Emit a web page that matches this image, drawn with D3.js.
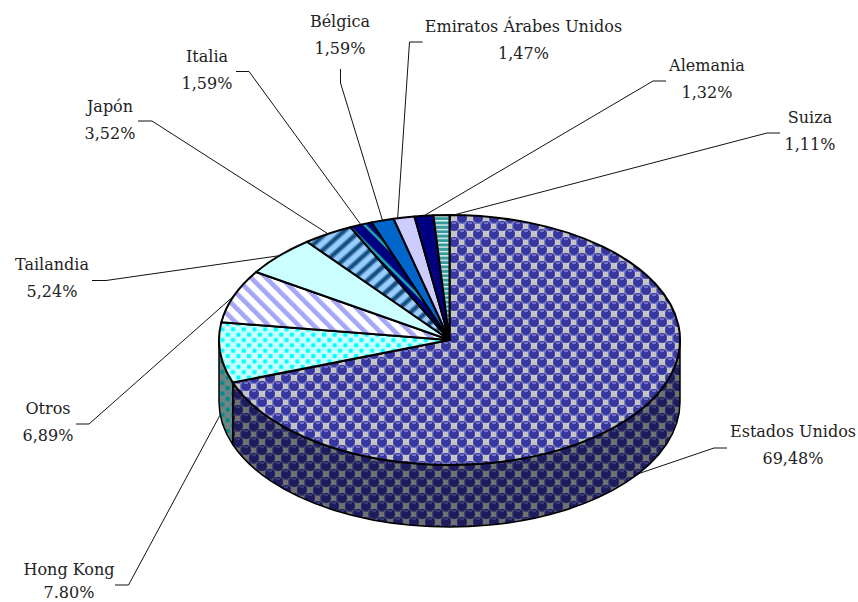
<!DOCTYPE html>
<html><head><meta charset="utf-8">
<script src="https://cdn.jsdelivr.net/npm/d3@7"></script>
<style>html,body{margin:0;padding:0;background:#fff}svg{display:block}text{font-family:"DejaVu Serif",serif;font-size:16px;font-weight:300;fill:#222;text-anchor:middle}</style>
</head><body><div id="c"></div>
<script>
const categories=["Estados Unidos","Hong Kong","Otros","Tailandia","Japón","Italia","Bélgica","Emiratos Árabes Unidos","Alemania","Suiza"];
const values=[69.48,7.80,6.89,5.24,3.52,1.59,1.59,1.47,1.32,1.11];
const valueLabels=["69,48%","7.80%","6,89%","5,24%","3,52%","1,59%","1,59%","1,47%","1,32%","1,11%"];
const fills=["url(#pEU)","url(#pHK)","url(#pOt)","#ccffff","url(#pJp)","url(#pIt)","#0066cc","#ccccff","#000080","url(#pSu)"];
const wallFills=["url(#pEUd)","url(#pHKd)"];
const labelCx=[793,69,48,52,110,207,340,523.5,707,810];
const labelY=[437,575,414,270,112,62,27,32,71,123];
const elbowA=[[727,448],[115,585],[76,424],[92,280.5],[138,121],[236,71.5],[340.5,69],[422.7,42],[666,81],[780,133]];
const elbowB=[[714,448],[128.5,585],[89,424],[106,280.5],[152,121],[249,71.5],[340.5,83],[409.5,42],[653,81],[767,133]];
const anchorNudge=[0,0,0,0,0,0,0,-0.8,0,1.5];

const W=858,H=602,cx=449.5,cy=340,rx=230.5,ry=125,depth=62;
const svg=d3.select("#c").append("svg").attr("width",W).attr("height",H);
const defs=svg.append("defs");
function pat(id,w,h,draw,tf){const p=defs.append("pattern").attr("id",id).attr("patternUnits","userSpaceOnUse").attr("width",w).attr("height",h);if(tf)p.attr("patternTransform",tf);draw(p);}
function balls(g,link,grey,ball,hi){
  g.append("rect").attr("width",16).attr("height",16).attr("fill",link);
  [[14,2],[6,10]].forEach(([x,y])=>g.append("rect").attr("x",x-3.2).attr("y",y-3.2).attr("width",6.4).attr("height",6.4).attr("fill",grey));
  [[6,2],[14,10],[-2,10],[6,18],[22,2],[14,-6]].forEach(([x,y])=>{
    g.append("circle").attr("cx",x).attr("cy",y).attr("r",4.9).attr("fill",ball);
    g.append("rect").attr("x",x-2).attr("y",y-3.6).attr("width",4).attr("height",1.3).attr("fill",hi);
  });
}
pat("pEU",16,16,g=>balls(g,"#7c7cc0","#c4c4c4","#3636a0","#8c8cd0"));
pat("pEUd",16,16,g=>balls(g,"#44446c","#707070","#1c1c5e","#48487e"));
pat("pHK",10.7,10.7,g=>{g.append("rect").attr("width",10.7).attr("height",10.7).attr("fill","#ccffff");
  [[1,1],[6.35,6.35]].forEach(([x,y])=>g.append("rect").attr("x",x).attr("y",y).attr("width",4).attr("height",4).attr("fill","#00ffff"));});
pat("pHKd",10.7,10.7,g=>{g.append("rect").attr("width",10.7).attr("height",10.7).attr("fill","#6f8585");
  [[1,1],[6.35,6.35]].forEach(([x,y])=>g.append("rect").attr("x",x).attr("y",y).attr("width",4).attr("height",4).attr("fill","#008b8b"));});
pat("pOt",10.6,10.6,g=>{g.append("rect").attr("width",10.6).attr("height",10.6).attr("fill","#fff");
  g.append("rect").attr("width",4.6).attr("height",10.6).attr("fill","#a6a6f6");},"rotate(-45)");
pat("pJp",10.5,10.5,g=>{g.append("rect").attr("width",10.5).attr("height",10.5).attr("fill","#99ccff");
  g.append("rect").attr("y",0).attr("width",10.5).attr("height",1.2).attr("fill","#5a8fc4");
  g.append("rect").attr("y",1.2).attr("width",10.5).attr("height",3.4).attr("fill","#0f4a7c");
  g.append("rect").attr("y",4.6).attr("width",10.5).attr("height",1.2).attr("fill","#5a8fc4");},"rotate(-42)");
pat("pIt",12,12,g=>{g.append("rect").attr("width",12).attr("height",12).attr("fill","#000080");
  g.append("rect").attr("width",2.5).attr("height",12).attr("fill","#22aaaa");},"rotate(-45) translate(1.5,0)");
pat("pSu",8,4.4,g=>{g.append("rect").attr("width",8).attr("height",4.4).attr("fill","#339999");
  g.append("rect").attr("y",0).attr("width",8).attr("height",1.4).attr("fill","#e6f4f4");});

const X=d3.scaleLinear().domain([-1,1]).range([cx-rx,cx+rx]);
const Y=d3.scaleLinear().domain([-1,1]).range([cy-ry,cy+ry]);
const pie=d3.pie().sort(null).value(d=>d).startAngle(0).endAngle(2*Math.PI);
const arcs=pie(values);
const px=a=>X(Math.sin(a)), py=a=>Y(-Math.cos(a));
function slicePath(d){
  const large=d.endAngle-d.startAngle>Math.PI?1:0;
  return `M${cx},${cy}L${px(d.startAngle)},${py(d.startAngle)}A${rx},${ry} 0 ${large} 1 ${px(d.endAngle)},${py(d.endAngle)}Z`;
}
function wallPath(d){
  const a=Math.max(d.startAngle,Math.PI/2), b=Math.min(d.endAngle,3*Math.PI/2);
  return `M${px(a)},${py(a)}A${rx},${ry} 0 0 1 ${px(b)},${py(b)}L${px(b)},${py(b)+depth}A${rx},${ry} 0 0 0 ${px(a)},${py(a)+depth}Z`;
}
const visibleWalls=arcs.filter(d=>d.endAngle>Math.PI/2&&d.startAngle<3*Math.PI/2);
svg.append("g").selectAll("path").data(visibleWalls).join("path").attr("d",wallPath)
  .attr("fill",(d,i)=>wallFills[i]).attr("stroke","#000").attr("stroke-width",1.5).attr("stroke-linejoin","round");
svg.append("g").selectAll("path").data(arcs).join("path").attr("d",slicePath)
  .attr("fill",(d,i)=>fills[i]).attr("stroke","#000").attr("stroke-width",2).attr("stroke-linejoin","round");

const line=d3.line();
const leaders=arcs.map((d,i)=>{
  const m=(d.startAngle+d.endAngle)/2+anchorNudge[i]*Math.PI/180*2;
  const front=Math.cos(m)<0;
  return [elbowA[i],elbowB[i],[px(m),py(m)+(front?depth:0)]];
});
svg.append("g").selectAll("path").data(leaders).join("path").attr("d",line)
  .attr("fill","none").attr("stroke","#111").attr("stroke-width",1);
const t=svg.append("g").selectAll("g").data(categories).join("g");
t.append("text").attr("x",(d,i)=>labelCx[i]).attr("y",(d,i)=>labelY[i]).text(d=>d);
t.append("text").attr("x",(d,i)=>labelCx[i]).attr("y",(d,i)=>Math.min(labelY[i]+27,598)).text((d,i)=>valueLabels[i]);
</script></body></html>
